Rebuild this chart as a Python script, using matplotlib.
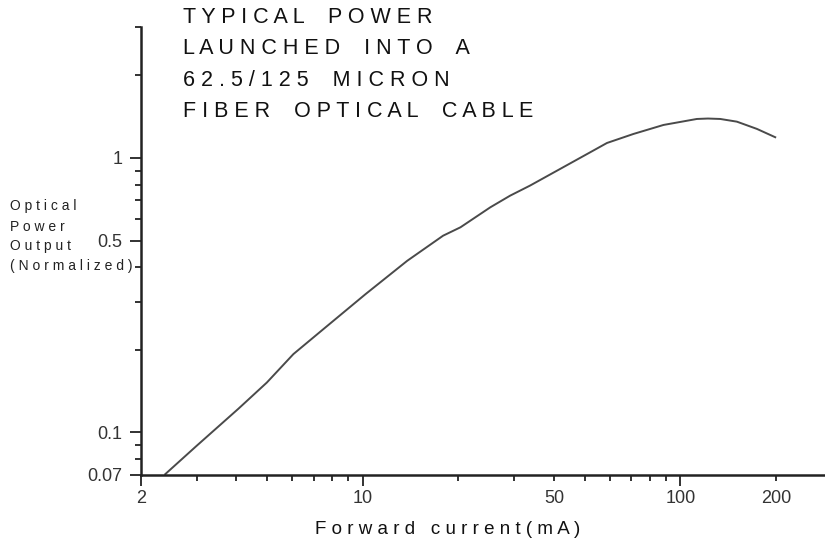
import matplotlib.pyplot as plt

# values (log-log)
current_ma = [2.39, 3.0, 4.06, 4.99, 6.05, 7.52, 10.2, 13.8, 17.9, 20.3, 25.2, 29.1,
              33.6, 41.8, 52.0, 58.7, 71.1, 88.4, 112.6, 122.0, 133.4, 150.5, 174.0, 198.7]
power_norm = [0.0705, 0.0894, 0.122, 0.152, 0.193, 0.238, 0.319, 0.422, 0.521, 0.559, 0.661, 0.729,
              0.793, 0.912, 1.049, 1.134, 1.223, 1.319, 1.387, 1.392, 1.387, 1.356, 1.276, 1.190]

x_major = [2, 10, 100]
x_major_labels = ['2', '10', '100']
x_minor = [3, 4, 5, 6, 7, 8, 9, 20, 30, 40, 50, 60, 70, 80, 90, 200]
x_minor_labels = ['', '', '', '', '', '', '', '', '', '50', '', '', '', '', '', '200']
y_major = [0.07, 0.1, 0.5, 1]
y_major_labels = ['0.07', '0.1', '0.5', '1']
y_minor = [0.08, 0.09, 0.2, 0.3, 0.4, 0.6, 0.7, 0.8, 0.9, 2, 3]

title_lines = ["TYPICAL POWER", "LAUNCHED INTO A", "62.5/125 MICRON", "FIBER OPTICAL CABLE"]
ylabel_lines = ["Optical", "Power", "Output", "(Normalized)"]
xlabel = "Forward current(mA)"


def spaced(s):
    # letter-spaced look of the original, words a bit further apart
    return "    ".join(" ".join(w) for w in s.split(" "))


plt.rcParams['font.family'] = ['Liberation Sans', 'DejaVu Sans']

fig = plt.figure(figsize=(8.25, 5.52), dpi=100)
ax = fig.add_axes([0.1705, 0.1395, 0.8295, 0.8116])

ax.plot(current_ma, power_norm, color='#4a4a4a', lw=1.4)

ax.set_xscale('log')
ax.set_yscale('log')
ax.set_xlim(2, 285)
ax.set_ylim(0.07, 3.0)

ax.set_xticks(x_major)
ax.set_xticklabels(x_major_labels)
ax.set_xticks(x_minor, minor=True)
ax.set_xticklabels(x_minor_labels, minor=True)
ax.set_yticks(y_major)
ax.set_yticklabels(y_major_labels)
ax.set_yticks(y_minor, minor=True)
ax.set_yticklabels([''] * len(y_minor), minor=True)

for side in ['top', 'right']:
    ax.spines[side].set_visible(False)
for side in ['left', 'bottom']:
    ax.spines[side].set_linewidth(1.8)
    ax.spines[side].set_color('#222222')
    ax.spines[side].set_clip_on(False)

ax.tick_params(which='major', length=8, width=1.3, color='#222222', labelsize=13,
               labelcolor='#333333', pad=5)
ax.tick_params(which='minor', length=4, width=1.3, color='#222222', labelsize=13,
               labelcolor='#333333', pad=9)
ax.tick_params(axis='x', which='major', pad=3)
ax.tick_params(axis='x', which='minor', pad=7)

fig.text(183 / 825, 1 - 7 / 552, "\n".join(spaced(l) for l in title_lines),
         ha='left', va='top', fontsize=15.5, color='#111111', linespacing=1.65)

ylabel_y = [206, 227, 246, 266]
for line, ypx in zip(ylabel_lines, ylabel_y):
    fig.text(10 / 825, 1 - ypx / 552, " ".join(line), ha='left', va='center',
             fontsize=10, color='#222222')

fig.text(448 / 825, 1 - 530 / 552, " ".join(xlabel), ha='center', va='center',
         fontsize=13.5, color='#111111')

fig.savefig("out.png", dpi=100)
